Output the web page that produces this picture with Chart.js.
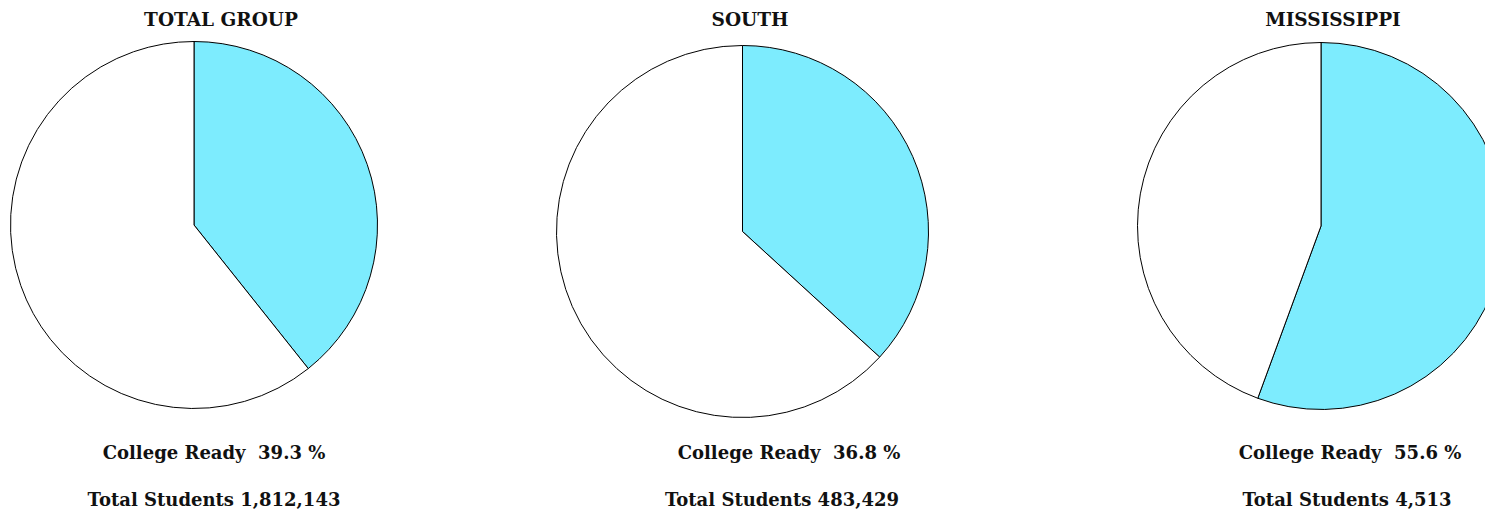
<!DOCTYPE html>
<html>
<head>
<meta charset="utf-8">
<script src="https://cdn.jsdelivr.net/npm/chart.js@4.4.1/dist/chart.umd.min.js"></script>
<style>
    html, body { margin: 0; padding: 0; background: #fff; width: 1485px; height: 511px; overflow: hidden; }
    .wrap { position: absolute; }
    .txt { position: absolute; font-family: "DejaVu Serif", serif; font-weight: bold; color: #111; white-space: nowrap; transform: translateX(-50%); line-height: 22px; }
    .title { font-size: 18.5px; top: 9px; }
    .lbl { font-size: 18px; }
</style>
</head>
<body>
<div id="root"></div>
<script>
const regions = ['TOTAL GROUP', 'SOUTH', 'MISSISSIPPI']
const collegeReady = [39.3, 36.8, 55.6]
const notReady = [60.7, 63.2, 44.4]
const totalStudents = ['1,812,143', '483,429', '4,513']

// where each pie goes on the page
const boxes = [
    { left: 10, top: 41, size: 368, titleX: 221, readyX: 214, totalX: 214 },
    { left: 556, top: 45, size: 373, titleX: 750, readyX: 789, totalX: 782 },
    { left: 1137, top: 42, size: 368, titleX: 1333, readyX: 1350, totalX: 1347 }
]

const root = document.getElementById('root')

function addText(cls, x, y, str) {
    const d = document.createElement('div')
    d.className = 'txt ' + cls
    d.style.left = x + 'px'
    if (y != null) d.style.top = y + 'px'
    d.textContent = str
    root.appendChild(d)
}

for (let i = 0; i < regions.length; i++) {
    const b = boxes[i]

    addText('title', b.titleX, null, regions[i])
    addText('lbl', b.readyX, 442, 'College Ready\u00a0\u00a0' + collegeReady[i].toFixed(1) + ' %')
    addText('lbl', b.totalX, 489, 'Total Students ' + totalStudents[i])

    const w = document.createElement('div')
    w.className = 'wrap'
    w.style.left = b.left + 'px'
    w.style.top = b.top + 'px'
    w.style.width = b.size + 'px'
    w.style.height = b.size + 'px'
    const c = document.createElement('canvas')
    c.width = b.size
    c.height = b.size
    w.appendChild(c)
    root.appendChild(w)

    new Chart(c.getContext('2d'), {
        type: 'pie',
        data: {
            labels: ['College Ready', 'Not Ready'],
            datasets: [{
                data: [collegeReady[i], notReady[i]],
                backgroundColor: ['#7decfe', '#ffffff'],
                borderColor: '#000000',
                borderWidth: 1
            }]
        },
        options: {
            responsive: false,
            animation: false,
            devicePixelRatio: 1,
            layout: { padding: 0 },
            plugins: {
                legend: { display: false },
                tooltip: { enabled: false }
            }
        }
    })
}
</script>
</body>
</html>
